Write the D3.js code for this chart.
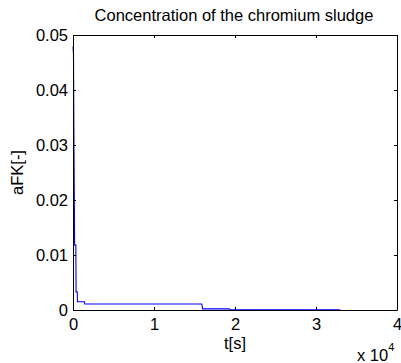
<!DOCTYPE html>
<html><head><meta charset="utf-8">
<script src="https://cdn.jsdelivr.net/npm/d3@7"></script>
<style>body{margin:0;background:#fff}text{font-family:"Liberation Sans",Arial,sans-serif}</style>
</head><body>
<svg id="c" width="401" height="363"></svg>
<script>
const title = "Concentration of the chromium sludge";
const xLabel = "t[s]";
const yLabel = "aFK[-]";
const xTicks = [0, 10000, 20000, 30000, 40000];
const xTickLabels = ["0", "1", "2", "3", "4"];
const yTicks = [0, 0.01, 0.02, 0.03, 0.04, 0.05];
const yTickLabels = ["0", "0.01", "0.02", "0.03", "0.04", "0.05"];
const tValues = [0, 60, 120, 200, 250, 350, 380, 520, 560, 1400, 1450, 15900, 16000, 19300, 19400, 33000];
const aValues = [0.0479, 0.0466, 0.030, 0.0118, 0.0118, 0.0118, 0.0033, 0.0033, 0.0015, 0.0015, 0.0011, 0.0011, 0.0002, 0.0002, 0.00002, 0.00002];

const FS = 16.5;
const svg = d3.select("#c");
const L = 73, R = 397, T = 35, B = 310;
const x = d3.scaleLinear().domain([0, 40000]).range([L, R]);
const y = d3.scaleLinear().domain([0, 0.05]).range([B, T]);

const line = d3.line().x((d, i) => x(tValues[i])).y((d, i) => y(aValues[i]));
svg.append("path").datum(aValues).attr("d", line).attr("fill", "none").attr("stroke", "#0000ff").attr("stroke-width", 1.1);

const tl = 3;
const fmtX = d => xTickLabels[xTicks.indexOf(d)];
const fmtY = d => yTickLabels[yTicks.indexOf(d)];
const gb = svg.append("g").attr("transform", `translate(0,${B})`)
  .call(d3.axisBottom(x).tickValues(xTicks).tickFormat(fmtX).tickSizeInner(-tl).tickSizeOuter(0).tickPadding(8));
const gt = svg.append("g").attr("transform", `translate(0,${T})`)
  .call(d3.axisTop(x).tickValues(xTicks).tickFormat("").tickSizeInner(-tl).tickSizeOuter(0));
const gl = svg.append("g").attr("transform", `translate(${L},0)`)
  .call(d3.axisLeft(y).tickValues(yTicks).tickFormat(fmtY).tickSizeInner(-tl).tickSizeOuter(0).tickPadding(5));
const gr = svg.append("g").attr("transform", `translate(${R},0)`)
  .call(d3.axisRight(y).tickValues(yTicks).tickFormat("").tickSizeInner(-tl).tickSizeOuter(0));
[gb, gt, gl, gr].forEach(g => {
  g.selectAll(".domain").attr("stroke", "#000");
  g.selectAll("line").attr("stroke", "#000");
  g.selectAll("text").attr("font-size", FS).attr("fill", "#000").attr("font-family", "Liberation Sans, Arial, sans-serif");
});

svg.append("text").attr("x", 234).attr("y", 21).attr("text-anchor", "middle").attr("font-size", FS).text(title);
svg.append("text").attr("x", 235).attr("y", 349).attr("text-anchor", "middle").attr("font-size", FS).text(xLabel);
svg.append("text").attr("transform", `translate(23,${(T + B) / 2}) rotate(-90)`).attr("text-anchor", "middle").attr("font-size", FS).text(yLabel);
const ex = svg.append("text").attr("x", 357).attr("y", 361).attr("font-size", FS);
ex.append("tspan").text("x 10");
ex.append("tspan").attr("font-size", 11).attr("dy", -10).text("4");
</script>
</body></html>
